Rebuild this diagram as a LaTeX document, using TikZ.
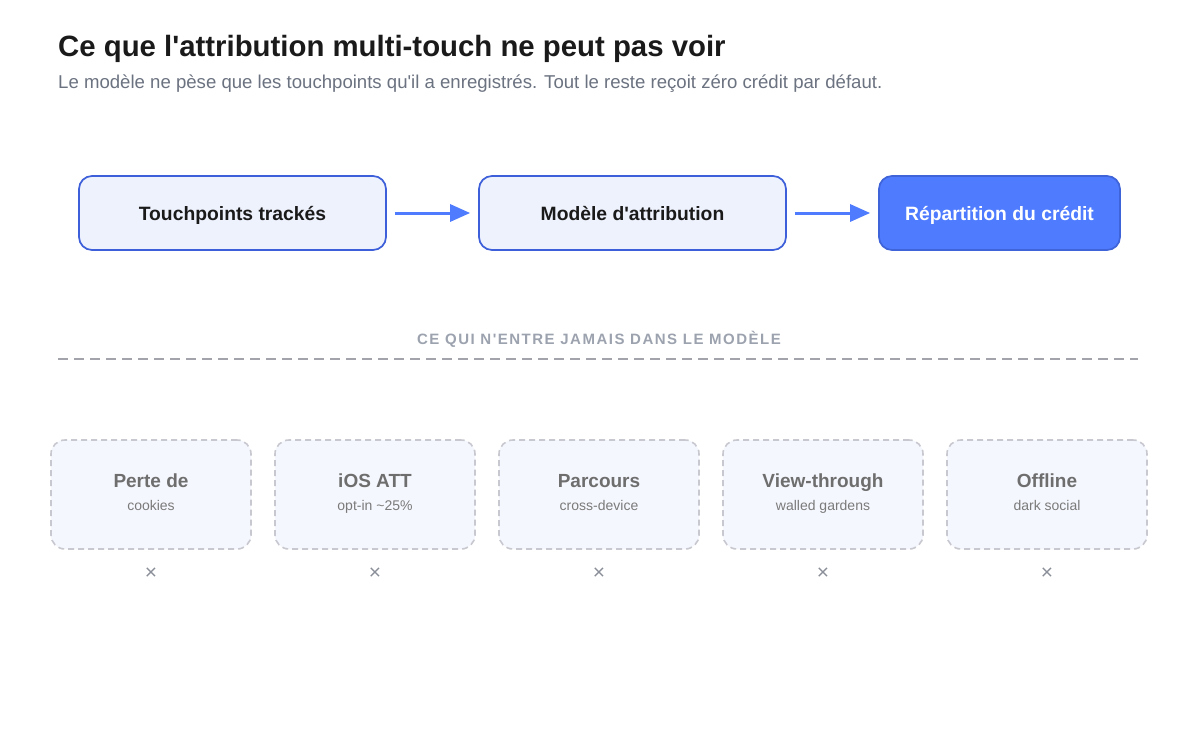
\documentclass[tikz,border=0pt]{standalone}
\usepackage{fontspec}
\setmainfont{Liberation Sans}[Ligatures=TeXOff]
\usetikzlibrary{arrows.meta}
\definecolor{titlec}{HTML}{1A1A1A}
\definecolor{subc}{HTML}{6B7280}
\definecolor{boxfill}{HTML}{EEF2FD}
\definecolor{boxdraw}{HTML}{3D5FD9}
\definecolor{accent}{HTML}{4F7CFF}
\definecolor{accentdraw}{HTML}{3F63D8}
\definecolor{headc}{HTML}{9CA3AF}
\definecolor{dashc}{HTML}{A3A3AB}
\definecolor{missfill}{HTML}{F5F7FE}
\definecolor{missdraw}{HTML}{C8C8D0}
\definecolor{misstitle}{HTML}{6E6E6E}
\definecolor{misssub}{HTML}{7A7A7A}
\definecolor{crossc}{HTML}{8A8F99}
\tikzset{
  flowbox/.style={draw=boxdraw, fill=boxfill, line width=1.7pt, rounded corners=13pt,
    minimum height=74pt, inner sep=0pt, text height=14pt, text depth=0pt,
    font=\fontsize{19.3}{22}\selectfont\bfseries, text=titlec},
  flowacc/.style={flowbox, fill=accent, draw=accentdraw, text=white},
  flowarrow/.style={draw=accent, line width=3pt, -{Triangle[length=20pt,width=17pt]}},
  missbox/.style={draw=missdraw, fill=missfill, line width=1.6pt, dash pattern=on 6pt off 4pt,
    rounded corners=14pt, minimum width=200pt, minimum height=109pt, inner sep=0pt},
  misst/.style={font=\fontsize{19}{22}\selectfont\bfseries, text=misstitle, anchor=base},
  misss/.style={font=\fontsize{14}{17}\selectfont, text=misssub, anchor=base},
  crossm/.style={font=\fontsize{21}{24}\selectfont, text=crossc}
}
\begin{document}
\begin{tikzpicture}[x=1pt,y=-1pt]
\useasboundingbox[fill=white] (0,0) rectangle (1200,747);
\node[anchor=base west, font=\fontsize{29.35}{34}\selectfont\bfseries, text=titlec, inner sep=0pt] (title) at (58,56) {Ce que l'attribution multi-touch ne peut pas voir};
\node[anchor=base west, font=\fontsize{18.6}{22}\selectfont, text=subc, inner sep=0pt] (sub) at (58,88) {Le modèle ne pèse que les touchpoints qu'il a enregistrés. Tout le reste reçoit zéro crédit par défaut.};

\node[flowbox, minimum width=307pt] (b1) at (232.5,213) {Touchpoints trackés};
\node[flowbox, minimum width=307pt] (b2) at (632.5,213) {Modèle d'attribution};
\node[flowacc, minimum width=241pt] (b3) at (999.5,213) {Répartition du crédit};
\draw[flowarrow] ([xshift=8pt]b1.east) -- ([xshift=-8pt]b2.west);
\draw[flowarrow] ([xshift=8pt]b2.east) -- ([xshift=-8pt]b3.west);

\node[anchor=base, font=\fontsize{15}{17}\selectfont\bfseries\addfontfeature{LetterSpace=10}, text=headc, inner sep=0pt] (head) at (599,344.5) {CE QUI N'ENTRE JAMAIS DANS LE MODÈLE};
\coordinate (l1) at (58,359);
\coordinate (l2) at (1138,359);
\draw[dashc, line width=1.6pt, dash pattern=on 10pt off 6pt] (l1) -- (l2);

\foreach \i/\t/\s in {0/Perte de/cookies, 1/iOS ATT/opt-in \textasciitilde25\%, 2/Parcours/cross-device, 3/View-through/walled gardens, 4/Offline/dark social}{
  \pgfmathsetmacro{\cx}{151+224*\i}
  \node[missbox] (m\i) at (\cx,494.5) {};
  \node[misst] (mt\i) at (\cx,487) {\t};
  \node[misss] (ms\i) at (\cx,510) {\s};
  \node[crossm] (x\i) at (\cx,574) {×};
}
\end{tikzpicture}
\end{document}
